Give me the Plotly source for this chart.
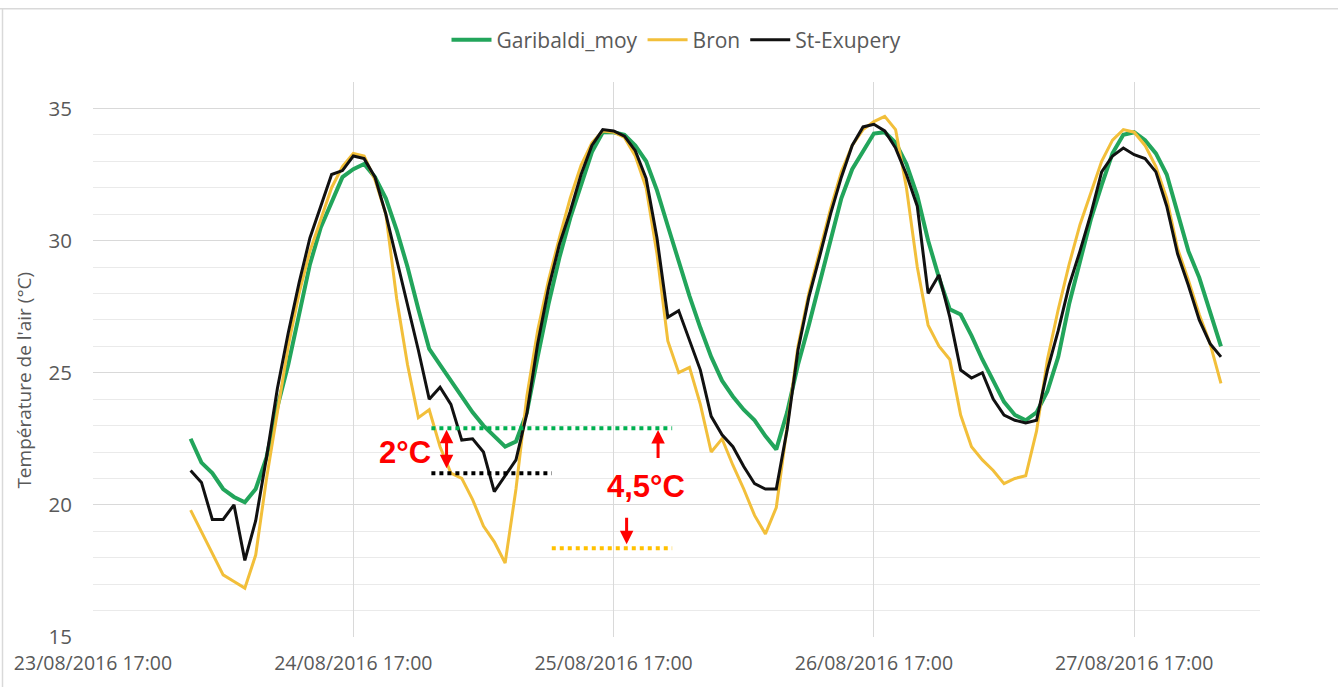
import plotly.graph_objects as go
import pandas as pd

# ---------------- data ----------------
start_time = "2016-08-24 02:00"
n_hours = 96
times = pd.date_range(start_time, periods=n_hours, freq="h")

garibaldi_moy = [
    22.5, 21.6, 21.2, 20.6, 20.3, 20.1, 20.6, 21.8, 23.7, 25.3,
    27.2, 29.1, 30.5, 31.5, 32.4, 32.7, 32.9, 32.4, 31.6, 30.4,
    29.0, 27.4, 25.9, 25.3, 24.7, 24.15, 23.5, 23.0, 22.6, 22.2,
    22.4, 23.5, 25.6, 27.6, 29.35, 30.85, 32.1, 33.35, 34.1, 34.1,
    34.0, 33.6, 33.0, 31.9, 30.55, 29.2, 27.9, 26.7, 25.6, 24.7,
    24.1, 23.6, 23.2, 22.6, 22.1, 23.5, 25.3, 26.8, 28.4, 30.0,
    31.6, 32.7, 33.4, 34.05, 34.1, 33.7, 32.9, 31.7, 30.0, 28.6,
    27.4, 27.2, 26.4, 25.5, 24.7, 23.9, 23.4, 23.2, 23.5, 24.3,
    25.6, 27.6, 29.2, 30.8, 32.1, 33.3, 34.0, 34.1, 33.8, 33.3,
    32.5, 31.0, 29.6, 28.6, 27.3, 26.0,
]
bron = [
    19.8, 19.0, 18.2, 17.35, 17.1, 16.85, 18.1, 21.0, 23.5, 26.0,
    28.0, 29.6, 30.8, 32.0, 32.8, 33.3, 33.2, 32.3, 31.0, 27.8,
    25.3, 23.3, 23.6, 22.2, 21.2, 21.0, 20.2, 19.2, 18.6, 17.8,
    20.6, 24.1, 26.6, 28.5, 30.1, 31.6, 32.85, 33.7, 34.15, 34.1,
    33.9, 33.2, 32.0, 29.5, 26.2, 25.0, 25.2, 23.8, 22.0, 22.5,
    21.5, 20.6, 19.6, 18.9, 19.9, 23.0, 26.0, 28.0, 29.6, 31.2,
    32.6, 33.6, 34.2, 34.5, 34.7, 34.2, 32.0, 29.0, 26.8, 26.0,
    25.5, 23.4, 22.2, 21.7, 21.3, 20.8, 21.0, 21.1, 22.8, 25.5,
    27.4, 29.1, 30.6, 31.8, 33.0, 33.8, 34.2, 34.1, 33.6, 32.8,
    31.6, 29.7, 28.5, 27.2, 26.1, 24.6,
]
st_exupery = [
    21.3, 20.85, 19.45, 19.45, 20.0, 17.9, 19.4, 21.8, 24.4, 26.5,
    28.4, 30.1, 31.3, 32.5, 32.65, 33.2, 33.1, 32.4, 31.0, 29.3,
    27.6, 25.85, 24.0, 24.45, 23.8, 22.45, 22.5, 22.0, 20.5, 21.1,
    21.7, 23.45, 26.1, 28.2, 29.85, 31.1, 32.5, 33.6, 34.2, 34.15,
    33.95, 33.4, 32.35, 30.1, 27.1, 27.35, 26.2, 25.1, 23.35, 22.65,
    22.2, 21.45, 20.8, 20.6, 20.6, 22.85, 25.85, 27.85, 29.4, 31.0,
    32.4, 33.6, 34.3, 34.4, 34.15, 33.5, 32.5, 31.3, 28.0, 28.7,
    27.1, 25.1, 24.8, 25.0, 24.0, 23.4, 23.2, 23.1, 23.2, 25.1,
    26.6, 28.3, 29.6, 31.0, 32.6, 33.2, 33.5, 33.25, 33.1, 32.6,
    31.3, 29.5, 28.3, 27.0, 26.1, 25.6,
]

series_names = ["Garibaldi_moy", "Bron", "St-Exupery"]
tick_times = ["2016-08-23 17:00", "2016-08-24 17:00", "2016-08-25 17:00",
              "2016-08-26 17:00", "2016-08-27 17:00"]
tick_labels = ["23/08/2016 17:00", "24/08/2016 17:00", "25/08/2016 17:00",
               "26/08/2016 17:00", "27/08/2016 17:00"]
y_ticks = [15, 20, 25, 30, 35]

# gap annotations (levels in °C)
green_level = 22.9
black_level = 21.2
yellow_level = 18.36

# ---------------- styling ----------------
GREEN = "#22A55B"
YELLOW = "#F2BF3A"
BLACK = "#111111"
GREY_TXT = "#595959"
FONT = "Open Sans"

base = pd.Timestamp("2016-08-23 17:00")


def t(h):
    return base + pd.Timedelta(hours=h)


fig = go.Figure()
fig.add_trace(go.Scatter(x=times, y=garibaldi_moy, name=series_names[0], mode="lines",
                         line=dict(color=GREEN, width=4)))
fig.add_trace(go.Scatter(x=times, y=bron, name=series_names[1], mode="lines",
                         line=dict(color=YELLOW, width=3)))
fig.add_trace(go.Scatter(x=times, y=st_exupery, name=series_names[2], mode="lines",
                         line=dict(color=BLACK, width=3)))

fig.update_layout(
    width=1338, height=688,
    margin=dict(l=93, r=78, t=82, b=46),
    paper_bgcolor="white", plot_bgcolor="white",
    font=dict(family=FONT, color=GREY_TXT),
    showlegend=True,
    legend=dict(orientation="h", x=0.5, xanchor="center", xref="paper",
                y=1 - 40 / 688, yref="container", yanchor="middle",
                font=dict(size=21, color=GREY_TXT, family=FONT),
                itemwidth=40,
                bgcolor="rgba(0,0,0,0)"),
)

fig.update_xaxes(
    type="date",
    range=[t(0), t(107.6)],
    tickvals=tick_times, ticktext=tick_labels,
    showgrid=True, gridcolor="#D9D9D9", gridwidth=1,
    zeroline=False, showline=False,
    tickfont=dict(size=19.5, color=GREY_TXT, family=FONT),
    ticks="", ticklabelstandoff=12,
)
fig.update_yaxes(
    range=[15, 36],
    tickvals=y_ticks,
    showgrid=True, gridcolor="#D9D9D9", gridwidth=1,
    zeroline=False, showline=False,
    tickfont=dict(size=20.5, color=GREY_TXT, family=FONT),
    ticks="", ticklabelstandoff=20,
    minor=dict(tickvals=[v for v in range(16, 35) if v % 5 != 0],
               showgrid=True, gridcolor="#EAEAEA", gridwidth=1),
)

# y axis title
annotations = [
    dict(text="Température de l'air (°C)", xref="paper", yref="paper",
         x=(24 - 93) / 1167, y=0.462, textangle=-90, showarrow=False,
         font=dict(size=19, color=GREY_TXT, family=FONT),
         xanchor="center", yanchor="middle"),
]

RED = "#FF0000"
arrow_common = dict(xref="x", yref="y", axref="x", ayref="y", text="",
                    showarrow=True, arrowhead=2, arrowsize=0.9, arrowwidth=3,
                    arrowcolor=RED, standoff=0, startstandoff=0)
# double arrow 2°C
annotations.append(dict(x=t(32.6), y=22.84, ax=t(32.6), ay=21.33,
                        arrowside="end+start", startarrowhead=2,
                        startarrowsize=0.9, **arrow_common))
# up arrow
annotations.append(dict(x=t(52.1), y=22.83, ax=t(52.1), ay=21.72, **arrow_common))
# down arrow
annotations.append(dict(x=t(49.2), y=18.51, ax=t(49.2), ay=19.57, **arrow_common))

annotations.append(dict(text="2°C", x=t(28.8), y=22.0, xref="x", yref="y",
                        showarrow=False,
                        font=dict(size=31, color=RED, family="Liberation Sans", weight="bold")))
annotations.append(dict(text="4,5°C", x=t(51.0), y=20.7, xref="x", yref="y",
                        showarrow=False,
                        font=dict(size=31, color=RED, family="Liberation Sans", weight="bold")))
fig.update_layout(annotations=annotations)

shapes = [
    # dotted reference levels
    dict(type="line", xref="x", yref="y", x0=t(31.2), x1=t(53.4),
         y0=green_level, y1=green_level, line=dict(color="#00B050", width=4, dash="dot")),
    dict(type="line", xref="x", yref="y", x0=t(31.2), x1=t(42.3),
         y0=black_level, y1=black_level, line=dict(color="#000000", width=4, dash="dot")),
    dict(type="line", xref="x", yref="y", x0=t(42.3), x1=t(53.4),
         y0=yellow_level, y1=yellow_level, line=dict(color="#FFC000", width=4, dash="dot")),
    # chart frame (top and left edges)
    dict(type="line", xref="paper", yref="paper", x0=-0.0797, x1=1.07,
         y0=(642 - 8) / 560, y1=(642 - 8) / 560, line=dict(color="#D9D9D9", width=1.5)),
    dict(type="line", xref="paper", yref="paper", x0=(2.5 - 93) / 1167, x1=(2.5 - 93) / 1167,
         y0=(642 - 8) / 560, y1=-0.09, line=dict(color="#D9D9D9", width=1.5)),
]
fig.update_layout(shapes=shapes)

fig.write_html("out.html",
               config={"displayModeBar": False},
               post_script="document.body.style.margin='0px';document.body.style.overflow='hidden';")
